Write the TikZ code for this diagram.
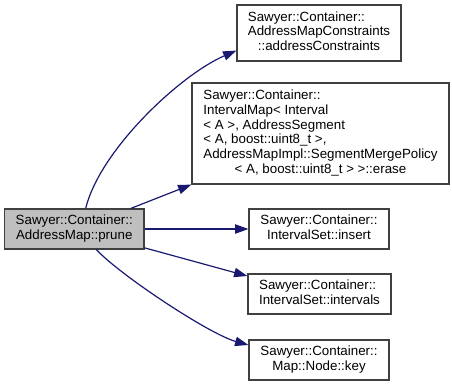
\documentclass[tikz,border=0pt]{standalone}
\usepackage{fontspec}
\setmainfont{Liberation Sans}
\usetikzlibrary{arrows.meta}
\definecolor{edgeblue}{HTML}{191970}
\definecolor{boxgray}{HTML}{404040}
\definecolor{srcfill}{HTML}{BFBFBF}
% label: left-aligned lines, last line centred
\newcommand{\fnlabel}[2]{\begin{tabular}{@{}l@{}}#1\\\multicolumn{1}{@{}c@{}}{#2}\end{tabular}}
\begin{document}
\begin{tikzpicture}[x=0.75pt,y=0.75pt,
  fnbox/.style={draw=boxgray, line width=0.9pt, fill=white, inner sep=0pt,
    font=\fontsize{10}{11}\selectfont},
  srcbox/.style={fnbox, fill=srcfill},
  call/.style={draw=edgeblue, line width=0.9pt,
    -{Triangle[length=10pt,width=7pt]}}]
\useasboundingbox (0,0) rectangle (452,-386);

\node[srcbox, minimum width=104.6pt, minimum height=30pt] (src) at (74.25,-229)
  {\fnlabel{Sawyer::Container::}{AddressMap::prune}};

\node[fnbox, minimum width=123pt, minimum height=42pt] (cons) at (319,-33)
  {\fnlabel{Sawyer::Container::\\AddressMapConstraints}{::addressConstraints}};

\node[fnbox, minimum width=192.75pt, minimum height=75.75pt] (erase) at (320.5,-133.5)
  {\fnlabel{Sawyer::Container::\\IntervalMap< Interval\\< A >, AddressSegment\\< A, boost::uint8\_t >,\\AddressMapImpl::SegmentMergePolicy}{< A, boost::uint8\_t > >::erase}};

\node[fnbox, minimum width=105pt, minimum height=30pt] (insert) at (319,-229)
  {\fnlabel{Sawyer::Container::}{IntervalSet::insert}};

\node[fnbox, minimum width=107.25pt, minimum height=30pt] (intervals) at (319.5,-294)
  {\fnlabel{Sawyer::Container::}{IntervalSet::intervals}};

\node[fnbox, minimum width=105pt, minimum height=30pt] (key) at (319,-360)
  {\fnlabel{Sawyer::Container::}{Map::Node::key}};

\draw[call] (src.61) .. controls (100,-150) and (180,-75) .. (cons.192);
\draw[call] (src.20.7) -- (erase.south west);
\draw[call] (src.east) -- (insert.west);
\draw[call] (src.-15) -- (intervals.166.6);
\draw[call] (src.-43.6) .. controls (120,-275) and (209,-334) .. (key.168.7);
\end{tikzpicture}
\end{document}
